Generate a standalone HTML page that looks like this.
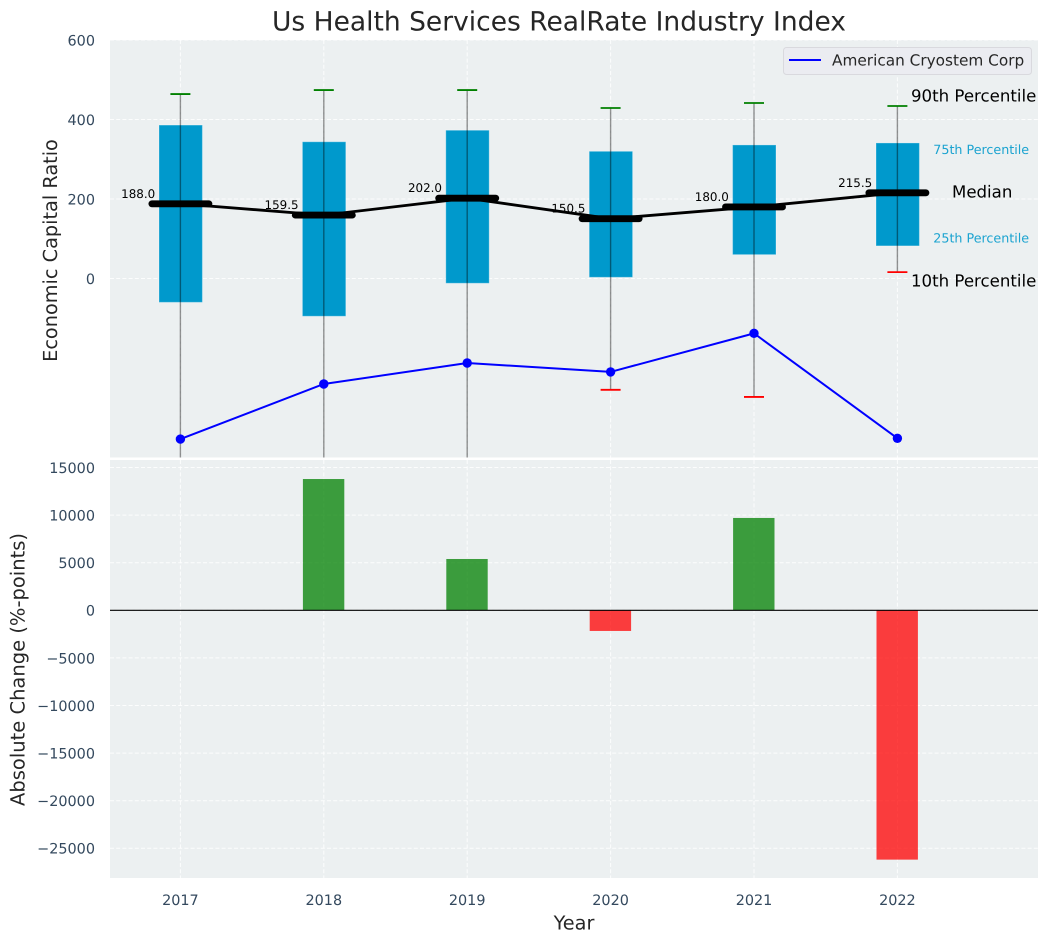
<!DOCTYPE html>
<html lang="en">
<head>
<meta charset="utf-8">
<title>Us Health Services RealRate Industry Index</title>
<style>
html,body{margin:0;padding:0;background:#fff;width:1048px;height:942px;overflow:hidden}
svg{display:block;font-family:"DejaVu Sans","Liberation Sans",sans-serif;text-rendering:geometricPrecision}
</style>
</head>
<body>
<svg id="chart" xmlns="http://www.w3.org/2000/svg" width="1048" height="942" viewBox="0 0 1048 942">
  <defs>
    <clipPath id="clip-top"><rect x="110" y="40" width="928" height="417.5"></rect></clipPath>
    <clipPath id="clip-bottom"><rect x="110" y="460" width="928" height="418"></rect></clipPath>
  </defs>
  <text x="559" y="30.5" text-anchor="middle" font-size="26.5px" fill="#262626">Us Health Services RealRate Industry Index</text>
  <rect x="110" y="40" width="928" height="417.5" fill="#ecf0f1"></rect>
  <rect x="110" y="460" width="928" height="418" fill="#ecf0f1"></rect>
  <g id="top-grid"></g>
  <g id="bottom-grid"></g>
  <g id="top-marks" clip-path="url(#clip-top)"></g>
  <g id="bottom-marks" clip-path="url(#clip-bottom)"></g>
  <g id="tick-labels"></g>
  <text transform="translate(57,250.5) rotate(-90)" text-anchor="middle" font-size="19.3px" fill="#262626">Economic Capital Ratio</text>
  <text transform="translate(24.3,669.5) rotate(-90)" text-anchor="middle" font-size="19.5px" fill="#262626">Absolute Change (%-points)</text>
  <text x="574" y="929.3" text-anchor="middle" font-size="19.3px" fill="#262626">Year</text>
  <g>
    <rect x="783.5" y="47.5" width="248" height="27" rx="3" fill="#ebecf1" stroke="#d9d9de" stroke-width="1"></rect>
    <line x1="789" y1="60" x2="821" y2="60" stroke="#0000ff" stroke-width="2"></line>
    <text x="832" y="65.5" font-size="15.3px" fill="#262626">American Cryostem Corp</text>
  </g>
  <g>
    <text x="911" y="101.7" font-size="16.6px" fill="#000">90th Percentile</text>
    <text x="933.3" y="154" font-size="12.7px" fill="#1ba3d0">75th Percentile</text>
    <text x="952" y="197.7" font-size="16.6px" fill="#000">Median</text>
    <text x="933.3" y="242.7" font-size="12.7px" fill="#1ba3d0">25th Percentile</text>
    <text x="911" y="286.7" font-size="16.6px" fill="#000">10th Percentile</text>
  </g>
</svg>
<script>
const years = [2017, 2018, 2019, 2020, 2021, 2022];
const p90 = [464, 474, 474, 429, 441.5, 434];
const p75 = [386, 344, 373, 320, 336, 341];
const medians = [188, 159.5, 202, 150.5, 180, 215.5];
const medianLabels = ['188.0', '159.5', '202.0', '150.5', '180.0', '215.5'];
const p25 = [-60, -95, -12, 3, 60, 82];
const p10 = [-600, -600, -600, -280, -298, 16];
const companyValues = [-404, -265.4, -212.6, -235, -138, -402];
const changeValues = [null, 13790, 5390, -2170, 9700, -26190];
const topTicks = [0, 200, 400, 600];
const bottomTicks = [15000, 10000, 5000, 0, -5000, -10000, -15000, -20000, -25000];

const SVG_NS = 'http://www.w3.org/2000/svg';
function xScale(year) { return 180.4 + 143.4 * (year - 2017); }
function yTop(v) { return 278.5 - 0.3975 * v; }
function yBottom(v) { return 610.3 - 0.00952 * v; }
function make(tag, attrs, parent) {
  const el = document.createElementNS(SVG_NS, tag);
  Object.keys(attrs).forEach(function (k) { el.setAttribute(k, attrs[k]); });
  parent.appendChild(el);
  return el;
}
const topGrid = document.getElementById('top-grid');
const bottomGrid = document.getElementById('bottom-grid');
const topMarks = document.getElementById('top-marks');
const bottomMarks = document.getElementById('bottom-marks');
const tickLabels = document.getElementById('tick-labels');
const gridStyle = { stroke: '#ffffff', 'stroke-width': 1, 'stroke-dasharray': '4 2.2', 'stroke-opacity': 0.85 };
const tickColor = '#34495e';

topTicks.forEach(function (t) {
  const line = make('line', Object.assign({ x1: 110, x2: 1038, y1: yTop(t), y2: yTop(t) }, gridStyle), topGrid);
  
  
  const label = make('text', { x: 95, y: yTop(t) + 5.4, 'text-anchor': 'end', 'font-size': '14.4px', fill: tickColor }, tickLabels);
  label.textContent = String(t);
  
  
});
bottomTicks.forEach(function (t) {
  const line = make('line', Object.assign({ x1: 110, x2: 1038, y1: yBottom(t), y2: yBottom(t) }, gridStyle), bottomGrid);
  
  
  const label = make('text', { x: 95, y: yBottom(t) + 5.4, 'text-anchor': 'end', 'font-size': '14.4px', fill: tickColor }, tickLabels);
  label.textContent = String(t).replace('-', '\u2212');
  
  
});
years.forEach(function (yr) {
  const x = xScale(yr);
  const a = make('line', Object.assign({ x1: x, x2: x, y1: 40, y2: 457.5 }, gridStyle), topGrid);
  
  
  const b = make('line', Object.assign({ x1: x, x2: x, y1: 460, y2: 878 }, gridStyle), bottomGrid);
  
  
  const label = make('text', { x: x, y: 905, 'text-anchor': 'middle', 'font-size': '14.4px', fill: tickColor }, tickLabels);
  label.textContent = String(yr);
  
  
});

years.forEach(function (yr, i) {
  const x = xScale(yr);
  const box = make('rect', { x: x - 21.4, width: 43.4, y: yTop(p75[i]), height: yTop(p25[i]) - yTop(p75[i]), fill: '#0099cc', stroke: '#ffffff', 'stroke-opacity': 0.3, 'stroke-width': 1 }, topMarks);
  
  
});
years.forEach(function (yr, i) {
  const x = xScale(yr);
  const whisker = make('line', { x1: x, x2: x, y1: yTop(p90[i]), y2: yTop(p10[i]), stroke: '#000000', 'stroke-opacity': 0.42, 'stroke-width': 1.4 }, topMarks);
  
  
  const capHigh = make('line', { x1: x - 10, x2: x + 10, y1: yTop(p90[i]), y2: yTop(p90[i]), stroke: '#008000', 'stroke-width': 1.8 }, topMarks);
  
  
  const capLow = make('line', { x1: x - 10, x2: x + 10, y1: yTop(p10[i]), y2: yTop(p10[i]), stroke: '#ff0000', 'stroke-width': 1.8 }, topMarks);
  
  
});
const medianPath = make('polyline', {
  points: years.map(function (yr, i) { return xScale(yr) + ',' + yTop(medians[i]); }).join(' '),
  fill: 'none', stroke: '#000000', 'stroke-width': 2.8
}, topMarks);


years.forEach(function (yr, i) {
  const x = xScale(yr);
  const y = yTop(medians[i]);
  const bar = make('line', { x1: x - 28.5, x2: x + 28.5, y1: y, y2: y, stroke: '#000000', 'stroke-width': 6.9, 'stroke-linecap': 'round' }, topMarks);
  
  
  const label = make('text', { x: x - 25.2, y: y - 6, 'text-anchor': 'end', 'font-size': '11.9px', fill: '#000000' }, topMarks);
  label.textContent = medianLabels[i];
  
  
});
const companyPath = make('polyline', {
  points: years.map(function (yr, i) { return xScale(yr) + ',' + yTop(companyValues[i]); }).join(' '),
  fill: 'none', stroke: '#0000ff', 'stroke-width': 2
}, topMarks);


years.forEach(function (yr, i) {
  const dot = make('circle', { cx: xScale(yr), cy: yTop(companyValues[i]), r: 4.7, fill: '#0000ff' }, topMarks);
  
  
});

years.forEach(function (yr, i) {
  const v = changeValues[i];
  if (v === null) { return; }
  const x = xScale(yr);
  const top = Math.min(yBottom(v), yBottom(0));
  const h = Math.abs(yBottom(v) - yBottom(0));
  const bar = make('rect', { x: x - 20.9, width: 41.4, y: top, height: h, fill: v >= 0 ? '#008000' : '#ff0000', 'fill-opacity': 0.75 }, bottomMarks);
  
  
});
const zeroLine = make('line', { x1: 110, x2: 1038, y1: yBottom(0), y2: yBottom(0), stroke: '#000000', 'stroke-width': 1.2 }, bottomMarks);


</script>
</body>
</html>
